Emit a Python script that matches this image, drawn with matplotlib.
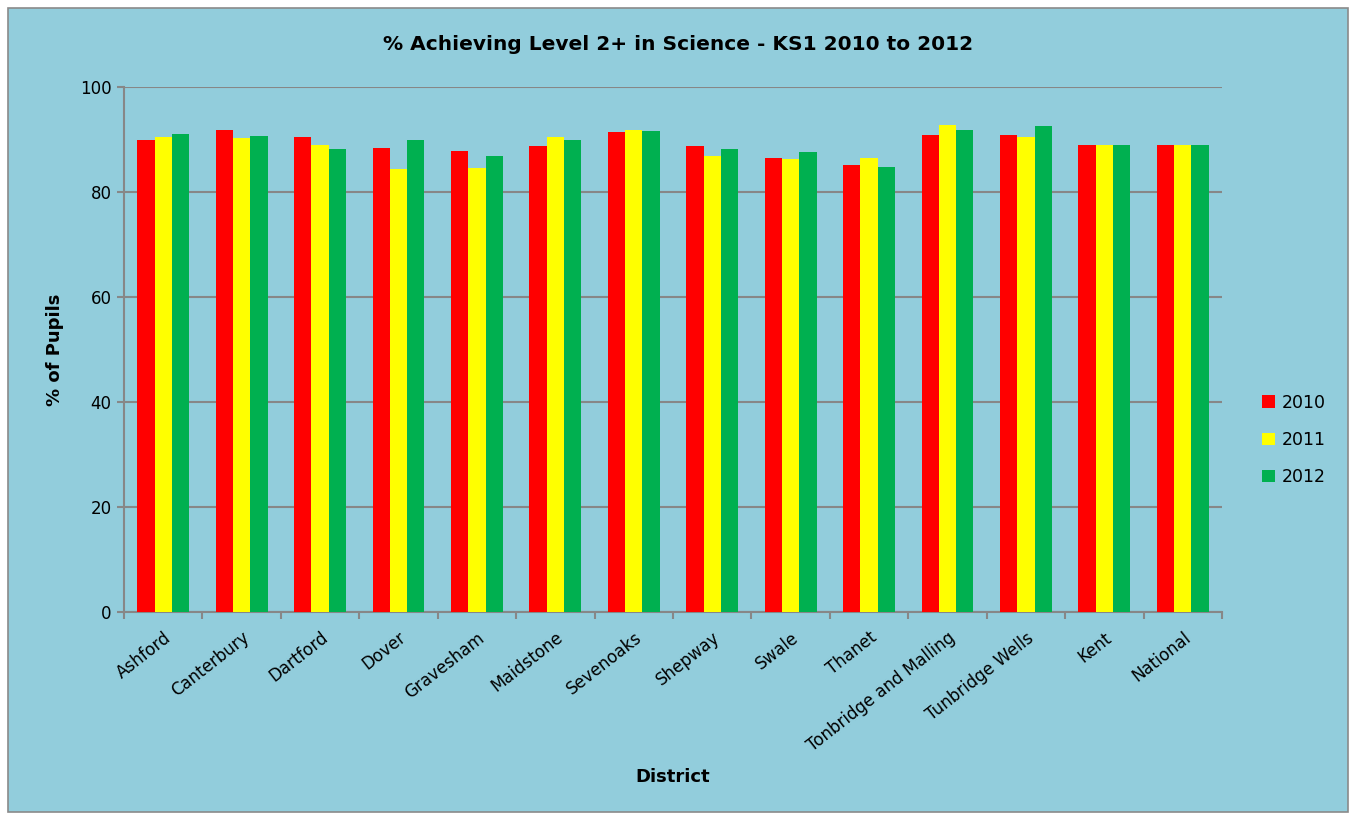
import numpy as np
import matplotlib
matplotlib.use("Agg")
import matplotlib.pyplot as plt
from matplotlib.patches import Rectangle
from matplotlib.ticker import FixedLocator, NullFormatter

districts = ["Ashford", "Canterbury", "Dartford", "Dover", "Gravesham", "Maidstone",
             "Sevenoaks", "Shepway", "Swale", "Thanet", "Tonbridge and Malling",
             "Tunbridge Wells", "Kent", "National"]
years = ["2010", "2011", "2012"]
pct_2010 = [90.0, 91.9, 90.4, 88.3, 87.8, 88.7, 91.4, 88.7, 86.4, 85.1, 90.8, 90.8, 88.9, 89.0]
pct_2011 = [90.5, 90.2, 89.0, 84.3, 84.6, 90.5, 91.9, 86.8, 86.2, 86.5, 92.7, 90.5, 88.9, 89.0]
pct_2012 = [91.1, 90.6, 88.2, 89.9, 86.9, 89.9, 91.6, 88.1, 87.6, 84.7, 91.9, 92.6, 88.9, 89.0]
colors = ["#FF0000", "#FFFF00", "#00B050"]

BG = "#92CDDC"
GRID = "#878787"

fig = plt.figure(figsize=(13.55, 8.14), dpi=100, facecolor="white")
fig.patches.append(Rectangle((8/1355, 2/814), 1340/1355, 804/814, transform=fig.transFigure,
                             facecolor=BG, edgecolor="#8a8a8a", linewidth=1.2, zorder=-10))
ax = fig.add_axes([124/1355, 1 - 612/814, (1222-124)/1355, (612-87)/814])
ax.set_facecolor(BG)

x = np.arange(len(districts))
w = 0.22
for i, (vals, c, yr) in enumerate(zip([pct_2010, pct_2011, pct_2012], colors, years)):
    ax.bar(x + (i - 1) * w, vals, width=w, color=c, label=yr, zorder=3)

ax.set_xlim(-0.5, len(districts) - 0.5)
ax.set_ylim(0, 100)
ax.set_yticks(range(0, 101, 20))
ax.yaxis.grid(True, color=GRID, linewidth=1.5, zorder=0)
ax.set_axisbelow(True)

ax.set_xticks(x)
ax.set_xticklabels(districts, rotation=38, ha="right", va="top", rotation_mode="anchor",
                   fontsize=12)
ax.tick_params(axis="x", which="major", length=0, pad=12)
ax.xaxis.set_minor_locator(FixedLocator(np.arange(-0.5, len(districts), 1.0)))
ax.xaxis.set_minor_formatter(NullFormatter())
ax.tick_params(axis="x", which="minor", length=5, width=1.5, color=GRID)
ax.tick_params(axis="y", length=5, width=1.5, color=GRID, labelsize=12, pad=4)

for s in ["top", "right"]:
    ax.spines[s].set_visible(False)
for s in ["left", "bottom"]:
    ax.spines[s].set_color(GRID)
    ax.spines[s].set_linewidth(1.5)

fig.text(678/1355, 1 - 44/814, "% Achieving Level 2+ in Science - KS1 2010 to 2012",
         ha="center", va="center", fontsize=14.5, fontweight="bold")
fig.text(55/1355, 1 - 350/814, "% of Pupils", rotation=90, ha="center", va="center",
         fontsize=13, fontweight="bold")
fig.text(673/1355, 1 - 777/814, "District", ha="center", va="center",
         fontsize=13, fontweight="bold")

leg = fig.legend(loc="center left", bbox_to_anchor=(1246/1355, 1 - 440/814), frameon=False,
                 fontsize=12.5, handlelength=0.75, handleheight=0.75, labelspacing=1.1,
                 handletextpad=0.4)

fig.savefig("out.png", dpi=100, facecolor="white")
